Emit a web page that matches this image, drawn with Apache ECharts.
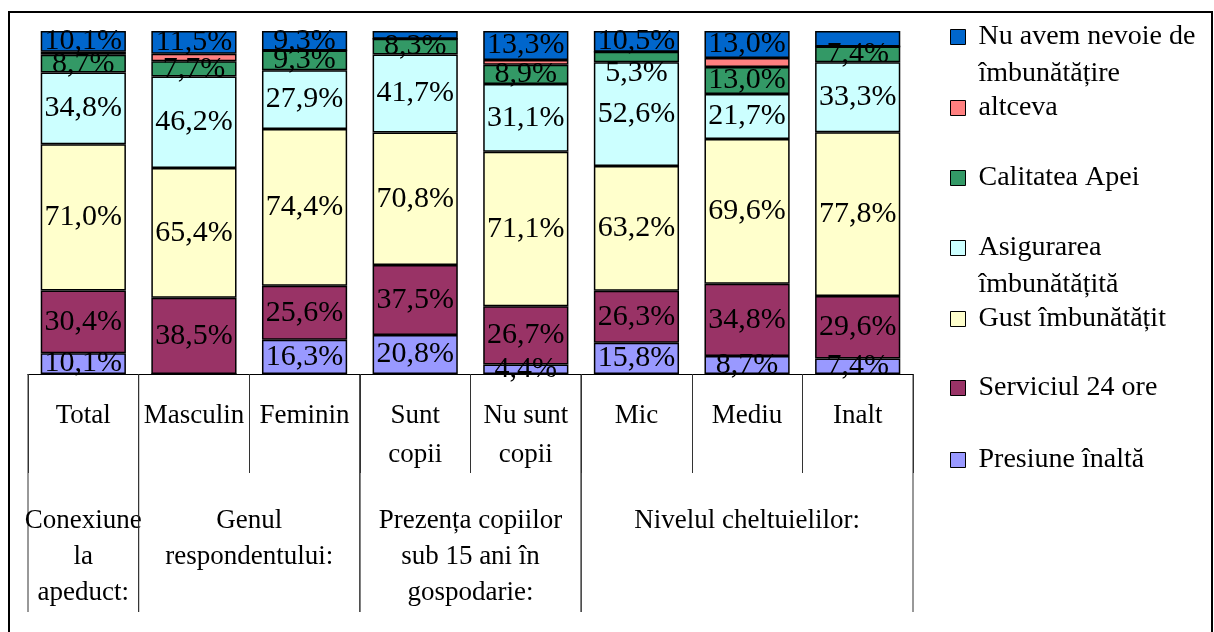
<!DOCTYPE html>
<html>
<head>
<meta charset="utf-8">
<script src="https://cdn.jsdelivr.net/npm/echarts@6/dist/echarts.min.js"></script>
<style>
  html, body { margin: 0; padding: 0; background: #fff; }
  #main { width: 1214px; height: 632px; }
</style>
</head>
<body>
<div id="main"></div>
<script>
// categories (first level) and groups (second level)
const categories = ['Total', 'Masculin', 'Feminin', 'Sunt\ncopii', 'Nu sunt\ncopii', 'Mic', 'Mediu', 'Inalt'];
const groupNames = ['Conexiune\nla\napeduct:', 'Genul\nrespondentului:', 'Prezența copiilor\nsub 15 ani în\ngospodarie:', 'Nivelul cheltuielilor:'];
const groupSizes = [1, 2, 2, 3];

// values in %, bottom of the stack first
const presiune   = [10.1, 0,    16.3, 20.8, 4.4,  15.8, 8.7,  7.4];
const serviciul  = [30.4, 38.5, 25.6, 37.5, 26.7, 26.3, 34.8, 29.6];
const gust       = [71.0, 65.4, 74.4, 70.8, 71.1, 63.2, 69.6, 77.8];
const asigurarea = [34.8, 46.2, 27.9, 41.7, 31.1, 52.6, 21.7, 33.3];
const calitatea  = [8.7,  7.7,  9.3,  8.3,  8.9,  5.3,  13.0, 7.4];
const altceva    = [1.4,  3.8,  0,    0,    2.2,  0,    4.3,  0];
const nuAvem     = [10.1, 11.5, 9.3,  4.2,  13.3, 10.5, 13.0, 7.4];

const seriesNames = ['Presiune înaltă', 'Serviciul 24 ore', 'Gust îmbunătățit', 'Asigurarea îmbunătățită',
                     'Calitatea Apei', 'altceva', 'Nu avem nevoie de îmbunătățire'];
const seriesValues = [presiune, serviciul, gust, asigurarea, calitatea, altceva, nuAvem];
const colors = ['#9999FF', '#993366', '#FFFFCC', '#CCFFFF', '#339966', '#FF8080', '#0066CC'];

const FONT = '"Liberation Serif", "Times New Roman", serif';

// 100% stacked: each column is scaled to its own sum
const totals = categories.map((c, i) => seriesValues.reduce((s, arr) => s + arr[i], 0));

// labels that the original chart does not show, as [series, category]
const hiddenLabels = [[6, 3], [6, 7]];
const labelOffsets = { '4_5': [0, 16] };

function fmt(v) {
    return v.toFixed(1).replace('.', ',') + '%';
}

const series = seriesValues.map((arr, s) => ({
    name: seriesNames[s],
    type: 'bar',
    stack: 'all',
    barCategoryGap: '23%',
    itemStyle: { color: colors[s], borderColor: '#000', borderWidth: 1.5 },
    label: {
        show: s !== 5,
        position: 'inside',
        fontFamily: FONT,
        fontSize: 30,
        color: '#000',
        formatter: p => arr[p.dataIndex] > 0 ? fmt(arr[p.dataIndex]) : ''
    },
    data: arr.map((v, i) => {
        const item = { value: v / totals[i] * 100 };
        if (hiddenLabels.some(h => h[0] === s && h[1] === i)) item.label = { show: false };
        if (labelOffsets[s + '_' + i]) item.label = { offset: labelOffsets[s + '_' + i] };
        return item;
    })
}));

// legend, top to bottom, one component per entry (uneven spacing as in the original)
// two-line entries get an empty first line so the marker sits beside the first text line
const legendLabels = {
    'Nu avem nevoie de îmbunătățire': '\nNu avem nevoie de\nîmbunătățire',
    'Asigurarea îmbunătățită': '\nAsigurarea\nîmbunătățită'
};
const legendOrder = [6, 5, 4, 3, 2, 1, 0];
const legendCenters = [37, 108, 178, 248, 319, 388, 460];
const legends = legendOrder.map((s, k) => {
    const name = seriesNames[s];
    const twoLines = !!legendLabels[name];
    return {
        data: [name],
        left: 950,
        top: legendCenters[k] - (twoLines ? 55.5 : 18.5),
        orient: 'vertical',
        padding: 0,
        icon: 'rect',
        itemWidth: 15,
        itemHeight: 15,
        itemStyle: { borderColor: '#000', borderWidth: 1 },
        selectedMode: false,
        formatter: n => legendLabels[n] || n,
        textStyle: {
            fontFamily: FONT, fontSize: 28, color: '#000', lineHeight: 37,
            padding: [0, 0, 0, 8]
        }
    };
});

const chart = echarts.init(document.getElementById('main'));
chart.setOption({
    animation: false,
    backgroundColor: '#fff',
    grid: { left: 28, right: 301, top: 31, bottom: 258 },
    legend: legends,
    xAxis: {
        type: 'category',
        data: categories,
        axisLine: { lineStyle: { color: '#000', width: 1 } },
        axisTick: { show: true, length: 99, lineStyle: { color: '#333', width: 1 } },
        axisLabel: {
            interval: 0, margin: 22, fontFamily: FONT, fontSize: 27,
            color: '#000', lineHeight: 39
        }
    },
    yAxis: { type: 'value', min: 0, max: 100, show: false },
    series: series
});

// second level of the category axis: group separators and group names
const c0 = chart.convertToPixel({ xAxisIndex: 0 }, 0);
const c1 = chart.convertToPixel({ xAxisIndex: 0 }, 1);
const band = c1 - c0;
const axisY = chart.convertToPixel({ yAxisIndex: 0 }, 0);
const boundary = i => c0 - band / 2 + i * band;

const graphics = [{
    type: 'rect',
    shape: { x: 9, y: 12, width: 1203, height: 640 },
    style: { fill: 'none', stroke: '#000', lineWidth: 2 },
    z: 10
}];
let start = 0;
groupSizes.forEach((size, g) => {
    const x0 = boundary(start), x1 = boundary(start + size);
    [x0, x1].forEach(x => graphics.push({
        type: 'line',
        shape: { x1: x, y1: axisY, x2: x, y2: axisY + 238 },
        style: { stroke: '#333', lineWidth: 1 }
    }));
    graphics.push({
        type: 'text',
        x: (x0 + x1) / 2,
        y: axisY + 129,
        style: {
            text: groupNames[g], font: '27px ' + FONT, fill: '#000',
            align: 'center', verticalAlign: 'top', lineHeight: 36
        }
    });
    start += size;
});
chart.setOption({ graphic: graphics });
</script>
</body>
</html>
